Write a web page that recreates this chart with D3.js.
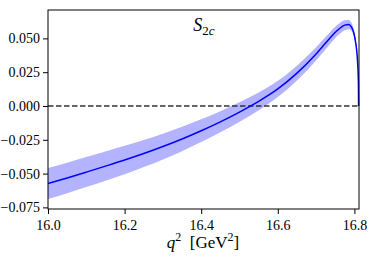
<!DOCTYPE html>
<html>
<head>
<meta charset="utf-8">
<script src="https://cdn.jsdelivr.net/npm/d3@7"></script>
<style>
  body { margin: 0; background: #fff; }
  text { font-family: "Liberation Serif", "DejaVu Serif", serif; fill: #000; }
</style>
</head>
<body>
<div class="chart"></div>
<script>
// q^2 grid [GeV^2] and S_2c central value with its band
const q2 = [16.00, 16.05, 16.10, 16.15, 16.20, 16.25, 16.30, 16.35, 16.40, 16.45, 16.50, 16.55, 16.60, 16.65, 16.70, 16.73, 16.755, 16.775, 16.785, 16.792, 16.798, 16.803, 16.807, 16.809, 16.8105, 16.811];
const central = [-0.0573, -0.0532, -0.0489, -0.0445, -0.0400, -0.0352, -0.0300, -0.0244, -0.0183, -0.0117, -0.0045, 0.0034, 0.0126, 0.0243, 0.0385, 0.0482, 0.0558, 0.0598, 0.0602, 0.0585, 0.0545, 0.0475, 0.0380, 0.0290, 0.0170, 0.0];
const upper = [-0.0458, -0.0419, -0.0378, -0.0337, -0.0295, -0.0252, -0.0205, -0.0154, -0.0099, -0.0039, 0.0027, 0.0100, 0.0186, 0.0298, 0.0434, 0.0527, 0.0599, 0.0635, 0.0636, 0.0616, 0.0572, 0.0497, 0.0396, 0.0301, 0.0176, 0.0];
const lower = [-0.0688, -0.0645, -0.0600, -0.0553, -0.0505, -0.0452, -0.0395, -0.0334, -0.0267, -0.0195, -0.0117, -0.0032, 0.0066, 0.0188, 0.0336, 0.0437, 0.0517, 0.0561, 0.0568, 0.0554, 0.0518, 0.0453, 0.0364, 0.0279, 0.0164, 0.0];

const xTicks = [16.0, 16.2, 16.4, 16.6, 16.8];
const yTicks = [-0.075, -0.050, -0.025, 0.000, 0.025, 0.050];

let dims = { height: 262, width: 374 };
const plot = { left: 48, right: 359, top: 10, bottom: 209 };

let svg = d3.select(".chart").append("svg")
  .attr("width", dims.width)
  .attr("height", dims.height);

const x = d3.scaleLinear().domain([16.0, 16.812]).range([plot.left, plot.right]);
const y = d3.scaleLinear().domain([-0.0762, 0.0710]).range([plot.bottom, plot.top]);

const rows = q2.map((q, i) => ({ q, c: central[i], lo: lower[i], hi: upper[i] }));

// band
svg.append("path")
  .datum(rows)
  .attr("fill", "#b3b3ff")
  .attr("stroke", "none")
  .attr("d", d3.area().curve(d3.curveMonotoneX)
    .x(d => x(d.q)).y0(d => y(d.lo)).y1(d => y(d.hi)));

// zero line
svg.append("line")
  .attr("x1", plot.left).attr("x2", plot.right)
  .attr("y1", y(0)).attr("y2", y(0))
  .attr("stroke", "#333")
  .attr("stroke-width", 1.4)
  .attr("stroke-dasharray", "5.5,2.5");

// central curve
svg.append("path")
  .datum(rows)
  .attr("fill", "none")
  .attr("stroke", "#0000ff")
  .attr("stroke-width", 1.5)
  .attr("d", d3.line().curve(d3.curveMonotoneX).x(d => x(d.q)).y(d => y(d.c)));

// axes
let xAxis = svg.append("g")
  .attr("transform", `translate(0, ${plot.bottom})`)
  .call(d3.axisBottom(x).tickValues(xTicks).tickFormat(d3.format(".1f")).tickSize(5).tickPadding(6));

let yAxis = svg.append("g")
  .attr("transform", `translate(${plot.left}, 0)`)
  .call(d3.axisLeft(y).tickValues(yTicks).tickFormat(d => d3.format(".3f")(d).replace("-", "\u2212")).tickSize(5).tickPadding(3));

[xAxis, yAxis].forEach(g => {
  g.select(".domain").remove();
  g.selectAll("line").attr("stroke", "#000").attr("stroke-width", 1);
  g.selectAll("text").style("font-size", "14px").attr("fill", "#000")
    .style("font-family", "'Liberation Serif', serif");
});

// frame
svg.append("rect")
  .attr("x", plot.left).attr("y", plot.top)
  .attr("width", plot.right - plot.left).attr("height", plot.bottom - plot.top)
  .attr("fill", "none").attr("stroke", "#000").attr("stroke-width", 1);

// title
let title = svg.append("text")
  .attr("x", 204).attr("y", 31)
  .attr("text-anchor", "middle")
  .style("font-size", "18px");
title.append("tspan").style("font-style", "italic").text("S");
title.append("tspan").attr("dy", 4).style("font-size", "13px").text("2");
title.append("tspan").attr("dy", 0).style("font-size", "13px").style("font-style", "italic").text("c");

// x label
let xlab = svg.append("text")
  .attr("x", 203).attr("y", 248)
  .attr("text-anchor", "middle")
  .style("font-size", "17px");
xlab.append("tspan").style("font-style", "italic").text("q");
xlab.append("tspan").attr("dy", -7).style("font-size", "12px").text("2");
xlab.append("tspan").attr("dy", 7).text("\u2002[GeV");
xlab.append("tspan").attr("dy", -7).style("font-size", "12px").text("2");
xlab.append("tspan").attr("dy", 7).text("]");
</script>
</body>
</html>
